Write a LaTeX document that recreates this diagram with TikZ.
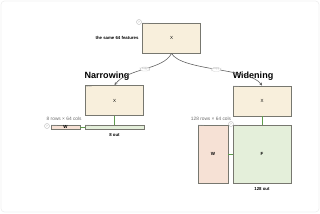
\documentclass[tikz,border=0pt]{standalone}
\usepackage{fontspec}
\setmainfont{Liberation Sans}
\usepackage{xcolor}
\usetikzlibrary{arrows.meta, positioning}
\definecolor{tensorfill}{HTML}{F8EFDC}
\definecolor{wfill}{HTML}{F6E1D5}
\definecolor{ffill}{HTML}{E4EFDA}
\definecolor{boxline}{HTML}{77776F}
\definecolor{linkgreen}{HTML}{5E9C4C}
\tikzset{
  tag/.style={anchor=north west, inner sep=0.6pt, text=gray!80, font=\fontsize{1.8}{2}\selectfont},
  tensor/.style={rectangle, draw=boxline, line width=0.8pt, fill=tensorfill,
                 minimum width=1.74cm, minimum height=0.9cm, inner sep=0pt,
                 font=\fontsize{3.8}{4}\selectfont, label={[tag]north west:tensor}},
  wbox/.style={rectangle, draw=boxline, line width=0.8pt, fill=wfill, inner sep=0pt,
               font=\fontsize{3.8}{4}\selectfont\bfseries, label={[tag]north west:tensor}},
  fbox/.style={rectangle, draw=boxline, line width=0.8pt, fill=ffill, inner sep=0pt,
               font=\fontsize{3.8}{4}\selectfont\bfseries, label={[tag]north west:tensor}},
  title/.style={font=\fontsize{7.7}{8}\selectfont\bfseries, inner sep=0pt},
  note/.style={font=\fontsize{3.7}{4}\selectfont\bfseries, inner sep=0pt},
  dims/.style={font=\fontsize{4.1}{5}\selectfont, text=gray!85!black, inner sep=0pt},
  help/.style={circle, draw=gray!60, line width=0.3pt, fill=white, minimum size=0.15cm,
               inner sep=0pt, text=gray!70, font=\fontsize{2.6}{3}\selectfont},
  copytag/.style={rectangle, rounded corners=2.5pt, draw=gray!35, line width=0.3pt, fill=white,
                  inner xsep=1.5pt, inner ysep=0.8pt, text=gray!70, font=\fontsize{2.4}{3}\selectfont},
  link/.style={linkgreen, line width=0.7pt},
  flow/.style={-{Stealth[length=2.5pt, width=2.5pt]}, gray!75!black, line width=0.5pt},
  frame/.style={draw=gray!12, line width=0.6pt, rounded corners=3pt},
}
\begin{document}
\begin{tikzpicture}[x=0.03cm, y=-0.03cm]
  \useasboundingbox (0,0) rectangle (320,213);
  \draw[frame] (1,1) rectangle (319,212);

  % --- Source tensor ---
  \node[tensor] (xtop) at (171.5,38) {X};
  \node[note, left=0.1cm of xtop] (same) {the same 64 features};
  \node[help] (qtop) at (139,22) {?};

  % --- Narrowing ---
  \node[title] (nartitle) at (107,76) {Narrowing};
  \node[tensor] (xnar) at (114.5,100.5) {X};
  \node[fbox, minimum width=1.77cm, minimum height=0.12cm] (fnar) at (114.5,127) {};
  \node[wbox, minimum width=0.87cm, minimum height=0.12cm] (wnar) at (65.5,127) {W};
  \node[note, below=0.1cm of fnar] (outnar) {8 out};
  \node[dims, above=0.12cm of wnar, xshift=-0.04cm] (dimnar) {8 rows × 64 cols};
  \node[help] (qnar) at (47,126) {?};

  % --- Widening ---
  \node[title] (widtitle) at (253,76) {Widening};
  \node[tensor] (xwid) at (262,101) {X};
  \node[fbox, minimum width=1.74cm, minimum height=1.74cm] (fwid) at (262,154) {F};
  \node[wbox, minimum width=0.9cm, minimum height=1.74cm] (wwid) at (213,154) {W};
  \node[note, below=0.1cm of fwid] (outwid) {128 out};
  \node[dims, above=0.12cm of wwid, xshift=-0.06cm] (dimwid) {128 rows × 64 cols};
  \node[help] (qwid) at (231,124) {?};

  % --- Copies ---
  \draw[flow] (xtop.south) .. controls (163,70) and (128,68) .. (xnar.north)
        node[copytag, pos=0.5] {copy};
  \draw[flow] (xtop.south) .. controls (182,71) and (250,68) .. (xwid.north)
        node[copytag, pos=0.5] {copy};

  % --- Links ---
  \draw[link] (xnar.south) -- (fnar.north);
  \draw[link] (wnar.east) -- (fnar.west);
  \draw[link] (xwid.south) -- (fwid.north);
  \draw[link] (wwid.east) -- (fwid.west);

\end{tikzpicture}
\end{document}
